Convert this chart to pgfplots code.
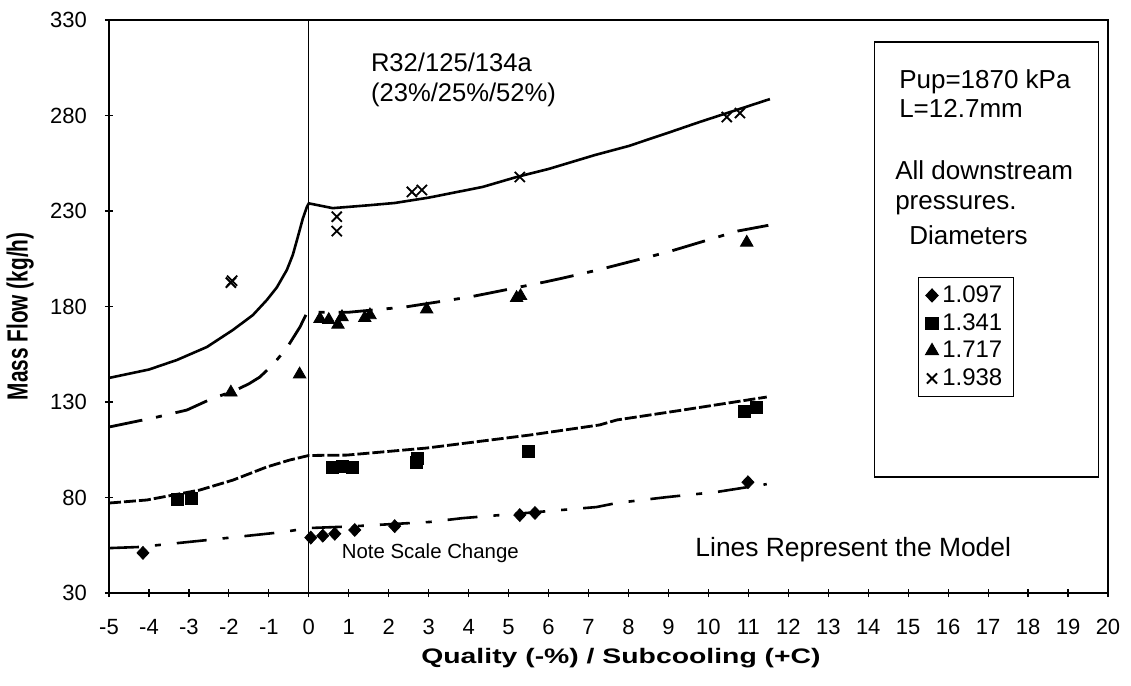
\documentclass[border=0pt]{standalone}
\usepackage{pgfplots}
\pgfplotsset{compat=1.18}
\usepackage{fontspec}
\setmainfont{Liberation Sans}

% Model curves (one per orifice diameter)
\pgfplotstableread{
x y
-5 142.6
-4 147
-3.3 152
-2.55 158.8
-1.9 167.7
-1.4 175.5
-1.05 183.4
-0.8 190
-0.55 199.1
-0.4 207
-0.28 216
-0.15 226
-0.05 232
0 234
0.6 231.5
1.5 233
2.15 234.2
3 237
4.35 242.6
5.2 247.8
6 252
7.16 259.3
8 264
9 271
9.78 276.6
10.5 281.5
11.54 288.6
}\modelD

\pgfplotstableread{
x y
-5 116.9
-3.8 122.1
-3.05 125.8
-2.4 132
-1.9 135.5
-1.5 139.5
-1.23 143
-0.9 149.5
-0.55 158.3
-0.22 169.3
-0.05 176.6
0.3 177
1.0 177
2.4 179.7
4.03 185
5.9 192.8
6.36 194.9
7.23 199.1
8.98 208.5
10.73 219.5
11.5 222.5
}\modelC

\pgfplotstableread{
x y
-5 77.1
-4.05 78.7
-2.73 83.9
-1.9 89.1
-1.05 96
-0.48 99.6
0 102
0.95 102.2
2.95 105.9
5.53 112.7
7.28 118
7.71 120.6
9.36 125.8
11.46 132.6
}\modelB

\pgfplotstableread{
x y
-5 53.5
-4.23 54.1
-2.55 57.7
-0.65 61.9
0 64
1 64.8
3.03 67.2
3.85 69.2
5.5 72
7.2 75
7.7 77.1
8.96 80.2
10.21 82.9
11.46 87
}\modelA

% Measured points
\pgfplotstableread{
x y
-4.15 51
0.05 59
0.35 60
0.65 61
1.15 63
2.15 65
5.28 70.8
5.66 71.9
10.99 88
}\dataA

\pgfplotstableread{
x y
-3.3 79
-2.95 79.5
0.6 95.5
0.85 96.5
1.1 95.5
2.7 98.5
2.72 100.5
5.5 104.3
10.9 125
11.2 127
}\dataB

\pgfplotstableread{
x y
-1.95 135
-0.23 144.5
0.28 173.5
0.5 173
0.73 170.5
0.83 174.5
1.4 174
1.53 175.5
2.95 178.5
5.2 184.5
5.3 185.5
10.96 213.5
}\dataC

\pgfplotstableread{
x y
-1.95 192.5
-1.92 193.5
0.7 227
0.7 219.5
2.58 240
2.83 241
5.28 247.8
10.46 279.2
10.79 281.3
}\dataD

\begin{document}
\begin{tikzpicture}
\path[use as bounding box] (0,0) rectangle (565.5pt,343pt);
\begin{axis}[
  at={(54.5pt,46.5pt)}, anchor=south west,
  scale only axis, width=499.5pt, height=286.5pt,
  xmin=-5, xmax=20, ymin=30, ymax=330,
  xtick={-5,-4,...,20}, ytick={30,80,...,330},
  tick pos=left, tick align=center, major tick length=4pt,
  tick style={black, line width=0.6pt},
  axis line style={line width=1pt},
  clip=false,
  /pgf/number format/assume math mode=true,
  ticklabel style={font=\fontsize{11}{13}\selectfont},
  xticklabel style={yshift=-7.5pt},
  yticklabel style={xshift=-5.5pt},
  xlabel={\scalebox{1.35}[1]{\textbf{Quality (-\%) / Subcooling (+C)}}},
  ylabel={\scalebox{1}[1.4]{\textbf{Mass Flow (kg/h)}}},
  xlabel style={font=\fontsize{10.5}{12}\selectfont,
    at={(axis description cs:0.5125,-0.114)}, anchor=center},
  ylabel style={font=\fontsize{10.4}{12}\selectfont,
    at={(axis description cs:-0.089,0.483)}, anchor=center},
  legend style={at={(0.81,0.5515)}, anchor=north west, draw=black,
    line width=0.6pt, font=\fontsize{12}{14}\selectfont,
    inner xsep=3.5pt, inner ysep=2pt, row sep=0pt},
  legend cell align=left,
]
% model lines
\addplot[forget plot, black, line width=1.3pt] table {\modelD};
\addplot[forget plot, black, line width=1.4pt,
  dash pattern=on 17pt off 7pt on 3pt off 7pt] table {\modelC};
\addplot[forget plot, black, line width=1.4pt,
  dash pattern=on 6pt off 1.5pt] table {\modelB};
\addplot[forget plot, black, line width=1.3pt,
  dash pattern=on 15pt off 8pt on 3pt off 8pt] table {\modelA};

% measurements
\addplot[only marks, mark=diamond*, mark size=3.2pt, black,
  mark options={xscale=1.25}] table {\dataA};
\addlegendentry{1.097}
\addplot[only marks, mark=square*, mark size=3pt, black] table {\dataB};
\addlegendentry{1.341}
\addplot[only marks, mark=triangle*, mark size=3.6pt, black] table {\dataC};
\addlegendentry{1.717}
\addplot[only marks, mark=x, mark size=3.6pt, black, line width=0.9pt] table {\dataD};
\addlegendentry{1.938}

% saturation boundary
\draw[black, line width=0.4pt] (axis cs:0,30) -- (axis cs:0,330);

% annotation box
\draw[black, line width=0.6pt] (axis cs:14.16,90.7) rectangle (axis cs:19.77,318.5);

\node[anchor=west, font=\fontsize{12.8}{14}\selectfont] at (axis cs:1.38,308) {R32/125/134a};
\node[anchor=west, font=\fontsize{12.8}{14}\selectfont] at (axis cs:1.38,290.7) {(23\%/25\%/52\%)};
\node[anchor=west, font=\fontsize{13}{15}\selectfont] at (axis cs:14.6,297.5) {Pup=1870 kPa};
\node[anchor=west, font=\fontsize{13}{15}\selectfont] at (axis cs:14.6,283.9) {L=12.7mm};
\node[anchor=west, font=\fontsize{13}{15}\selectfont] at (axis cs:14.5,251.5) {All downstream};
\node[anchor=west, font=\fontsize{13}{15}\selectfont] at (axis cs:14.5,233.2) {pressures.};
\node[anchor=west, font=\fontsize{13}{15}\selectfont] at (axis cs:14.85,217.4) {Diameters};
\node[anchor=west, font=\fontsize{10.2}{12}\selectfont] at (axis cs:0.65,50.9) {Note Scale Change};
\node[anchor=west, font=\fontsize{13.2}{15}\selectfont] at (axis cs:9.5,52.5) {Lines Represent the Model};
\end{axis}
\end{tikzpicture}
\end{document}
